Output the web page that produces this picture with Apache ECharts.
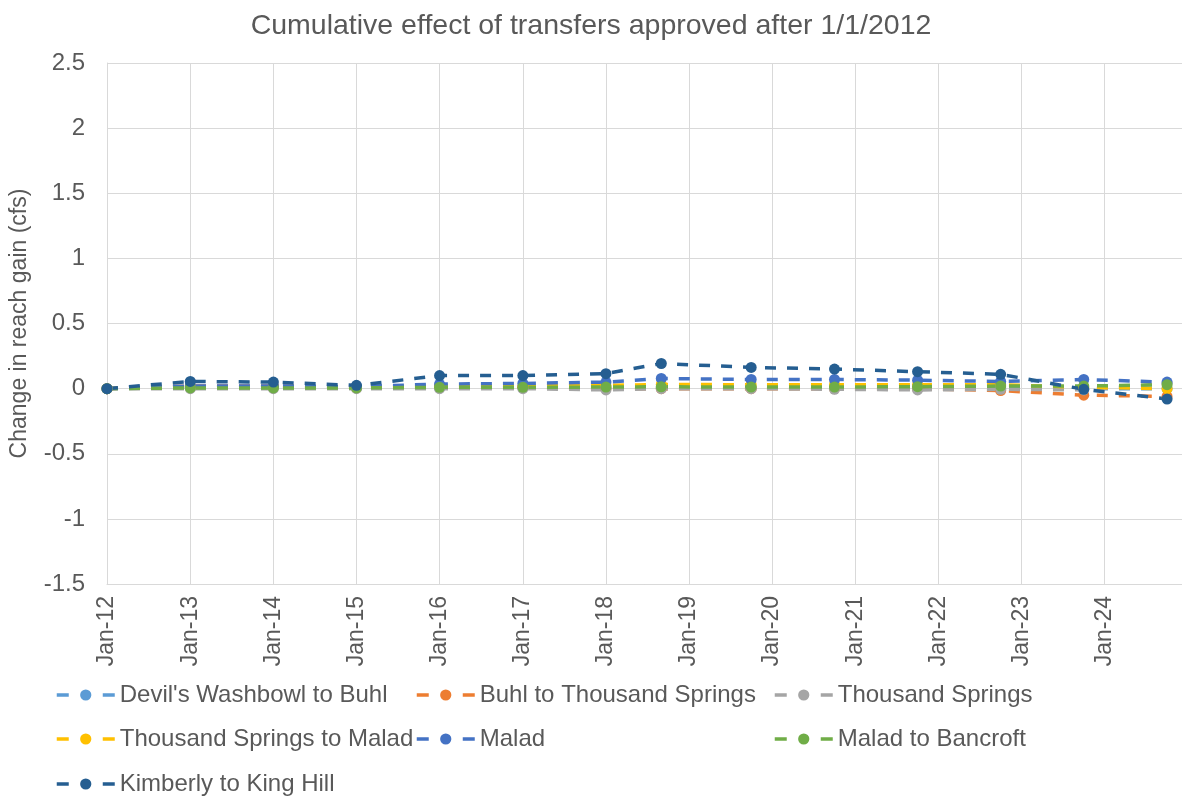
<!DOCTYPE html>
<html>
<head>
<meta charset="utf-8">
<title>Cumulative effect of transfers</title>
<script src="https://cdn.jsdelivr.net/npm/echarts@6/dist/echarts.min.js"></script>
<style>
    html, body { margin: 0; padding: 0; background: #ffffff; }
    #main { width: 1182px; height: 796px; }
</style>
</head>
<body>
<div id="main"></div>
<script>
// dates of each point
var dates = ['2012-01-01', '2013-01-01', '2014-01-01', '2015-01-01', '2016-01-01', '2017-01-01',
    '2018-01-01', '2018-09-01', '2019-10-01', '2020-10-01', '2021-10-01', '2022-10-01',
    '2023-10-01', '2024-10-01'];

var names = ["Devil's Washbowl to Buhl", 'Buhl to Thousand Springs', 'Thousand Springs',
    'Thousand Springs to Malad', 'Malad', 'Malad to Bancroft', 'Kimberly to King Hill'];
var colors = ['#5B9BD5', '#ED7D31', '#A5A5A5', '#FFC000', '#4472C4', '#70AD47', '#255E91'];

// change in reach gain (cfs)
var devilsWashbowl = [0, 0.01, 0.01, 0.005, 0.005, 0.005, 0.005, 0.005, 0.005, 0.005, 0.005, 0.005, 0, 0];
var buhlToThousand = [0, 0.02, 0.02, 0.01, 0.01, 0.01, 0, 0, 0, 0, 0, -0.015, -0.05, -0.06];
var thousandSprings = [0, 0, 0, 0, 0, 0, -0.01, 0, 0, -0.005, -0.01, -0.005, -0.01, 0.04];
var thousandToMalad = [0, 0.015, 0.015, 0.01, 0.02, 0.02, 0.025, 0.032, 0.03, 0.03, 0.03, 0.03, 0.01, 0];
var malad = [0, 0.02, 0.02, 0.015, 0.035, 0.04, 0.05, 0.078, 0.07, 0.07, 0.065, 0.055, 0.07, 0.05];
var maladToBancroft = [0, 0.005, 0.005, 0.005, 0.01, 0.01, 0.012, 0.014, 0.012, 0.012, 0.015, 0.02, 0.02, 0.03];
var kimberly = [0, 0.055, 0.05, 0.025, 0.1, 0.1, 0.115, 0.193, 0.163, 0.15, 0.13, 0.11, -0.005, -0.08];

var values = [devilsWashbowl, buhlToThousand, thousandSprings, thousandToMalad, malad, maladToBancroft, kimberly];

// legend slots [left, top]
var legendPos = [[55, 683], [415, 683], [773, 683], [55, 727], [415, 727], [773, 727], [55, 772]];

var font = 'Liberation Sans';
var textColor = '#595959';
var gridColor = '#D9D9D9';

var series = [];
var legends = [];
for (var i = 0; i < names.length; i++) {
    var pts = [];
    for (var j = 0; j < dates.length; j++) {
        pts.push([dates[j], values[i][j]]);
    }
    series.push({
        name: names[i],
        type: 'line',
        data: pts,
        symbol: 'circle',
        symbolSize: 11,
        showSymbol: true,
        color: colors[i],
        lineStyle: { width: 3.5, type: [11, 11], color: colors[i] },
        itemStyle: { color: colors[i] },
        emphasis: { disabled: true }
    });
    legends.push({
        data: [names[i]],
        left: legendPos[i][0],
        top: legendPos[i][1],
        padding: 0,
        itemWidth: 58,
        itemHeight: 14,
        selectedMode: false,
        lineStyle: { type: [12, 34], width: 3.5 },
        textStyle: { fontFamily: font, fontSize: 24, color: textColor }
    });
}

var myChart = echarts.init(document.getElementById('main'));
var option = {
    animation: false,
    backgroundColor: '#ffffff',
    title: {
        text: 'Cumulative effect of transfers approved after 1/1/2012',
        left: 'center',
        top: 7,
        textStyle: { fontFamily: font, fontSize: 28.5, fontWeight: 'normal', color: textColor }
    },
    legend: legends,
    // plot runs past the right edge up to Jan-25
    grid: { left: 107, width: 1081, top: 63, bottom: 212, outerBoundsMode: 'none', containLabel: false },
    xAxis: {
        type: 'time',
        min: '2012-01-01',
        max: '2025-01-01',
        minInterval: 3600 * 24 * 1000 * 365,
        maxInterval: 3600 * 24 * 1000 * 366,
        axisLine: { onZero: false, lineStyle: { color: gridColor } },
        axisTick: { show: false },
        splitLine: { show: true, lineStyle: { color: gridColor, width: 1 } },
        axisLabel: {
            rotate: 90,
            margin: 12,
            showMaxLabel: false,
            fontFamily: font,
            fontSize: 23,
            color: textColor,
            formatter: function (val) {
                var d = new Date(val);
                return 'Jan-' + String(d.getFullYear()).slice(2);
            }
        }
    },
    yAxis: {
        type: 'value',
        min: -1.5,
        max: 2.5,
        interval: 0.5,
        name: 'Change in reach gain (cfs)',
        nameLocation: 'middle',
        nameGap: 76,
        nameTextStyle: { fontFamily: font, fontSize: 23, color: textColor },
        axisLine: { show: true, lineStyle: { color: gridColor } },
        axisTick: { show: false },
        splitLine: { lineStyle: { color: gridColor, width: 1 } },
        axisLabel: { margin: 22, fontFamily: font, fontSize: 24, color: textColor }
    },
    series: series
};
myChart.setOption(option);
</script>
</body>
</html>
